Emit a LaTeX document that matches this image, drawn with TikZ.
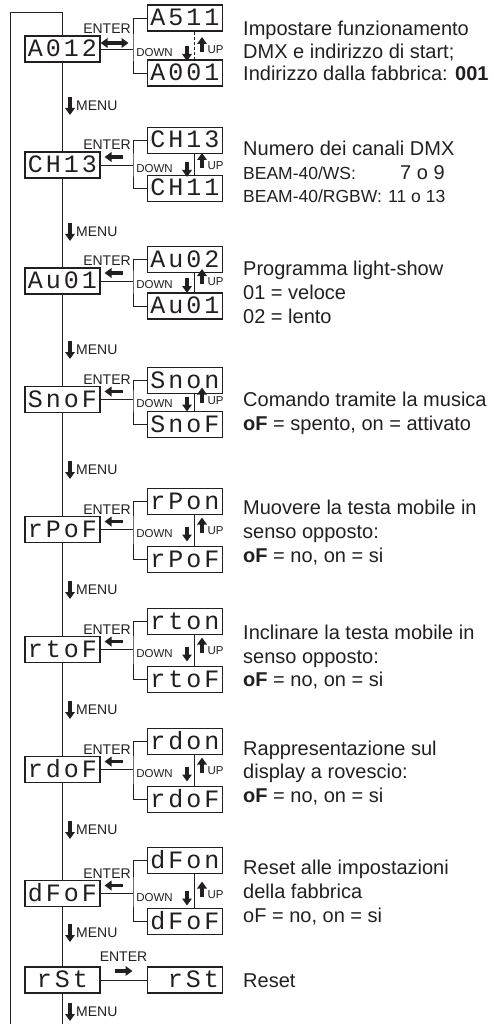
\documentclass[tikz,border=0pt]{standalone}
\usepackage{fontspec}
\setmainfont{Liberation Sans}
\newfontfamily\segfont[LetterSpace=12]{Liberation Mono}
\usetikzlibrary{arrows.meta,calc}
\definecolor{ink}{HTML}{231F20}
\tikzset{
  disp/.style={draw=ink, line width=1.1pt, fill=white, minimum width=75pt, minimum height=26pt,
    inner sep=0pt, text height=15pt, text depth=0pt, text=ink, font=\segfont\fontsize{25}{25}\selectfont},
  conn/.style={draw=ink, line width=0.9pt},
  bigarrow/.style={draw=ink, line width=3.2pt, -{Triangle[length=7pt,width=9.5pt]}},
  dblarrow/.style={draw=ink, line width=3.2pt, {Triangle[length=7pt,width=9.5pt]}-{Triangle[length=7pt,width=9.5pt]}},
  lbl/.style={font=\fontsize{14}{14}\selectfont, text=ink, inner sep=0pt},
  sml/.style={font=\fontsize{11.5}{11.5}\selectfont, text=ink, inner sep=0pt},
  desc/.style={font=\fontsize{20}{23.5}\selectfont, text=ink, anchor=base west, inner sep=0pt},
  cond/.style={font=\fontsize{17.5}{23.5}\selectfont},
  udline/.style={},
  dashedud/.style={dash pattern=on 3pt off 2pt}
}
% id, c, top centre, bottom centre, main text, top text, bottom text, line style
\newcommand{\menusection}[8]{%
  \node[disp] (m#1) at (62.5,#2) {#5};
  \node[disp] (t#1) at (185,#3) {#6};
  \node[disp] (b#1) at (185,#4) {#7};
  \coordinate (j#1) at (133,#2);
  \coordinate (u#1) at (194,#2);
  \draw[conn] (m#1.east) -- (j#1);
  \draw[conn] (t#1.west) -| (j#1) |- (b#1.west);
  \draw[conn,#8] (t#1.south -| u#1) -- (b#1.north -| u#1);
  \node[lbl] (e#1) at (107,#2-20) {ENTER};
  \node[sml] (dn#1) at (154.5,#2+4) {DOWN};
  \node[sml] (up#1) at (215.5,#2+1) {UP};
  \draw[bigarrow] ($(u#1)+(-7,-3)$) -- ($(u#1)+(-7,12)$);
  \draw[bigarrow] ($(u#1)+(8,3)$) -- ($(u#1)+(8,-12)$);
}
\newcommand{\menuarrow}[2]{%
  \coordinate (ma#1) at (70,#2);
  \draw[bigarrow] ($(ma#1)+(0,-9)$) -- ($(ma#1)+(0,9)$);
  \node[lbl, anchor=west] (mt#1) at (76,#2) {MENU};
}
\begin{document}
\begin{tikzpicture}[x=1pt,y=-1pt]
\useasboundingbox (0,0) rectangle (494,1024);
% loop lines
\coordinate (bl) at (10,1024);
\coordinate (tl) at (10,12);
\coordinate (tm) at (62.5,12);
\coordinate (bm) at (62.5,1024);
\draw[conn] (bl) -- (tl) -- (tm) -- (bm);

\menusection{1}{49}{18}{73}{A012}{A511}{A001}{dashedud}
\draw[dblarrow] ($(m1.east)+(0,-6)$) -- ($(m1.east)+(28,-6)$);
\menusection{2}{165}{140.5}{188.5}{CH13}{CH13}{CH11}{udline}
\menusection{3}{281}{259.5}{306}{Au01}{Au02}{Au01}{udline}
\menusection{4}{399.5}{380.5}{424.5}{SnoF}{Snon}{SnoF}{udline}
\menusection{5}{529.5}{501.5}{559.5}{rPoF}{rPon}{rPoF}{udline}
\menusection{6}{649.5}{621.5}{679.5}{rtoF}{rton}{rtoF}{udline}
\menusection{7}{769.5}{741.5}{799.5}{rdoF}{rdon}{rdoF}{udline}
\menusection{8}{893.5}{860.5}{921.5}{dFoF}{dFon}{dFoF}{udline}
\foreach \k in {2,...,8}{
  \draw[bigarrow] ($(e\k)+(15.5,12)$) -- ($(e\k)+(-2.5,12)$);
}
% reset
\node[disp] (m9) at (62.5,980) {rSt};
\node[disp] (r9) at (185,980) {\makebox[68pt][r]{rSt}};
\draw[conn] (m9.east) -- (r9.west);
\node[lbl] (e9) at (123.5,957) {ENTER};
\draw[bigarrow] ($(e9)+(-9,14)$) -- ($(e9)+(9,14)$);

\menuarrow{1}{106}
\menuarrow{2}{232}
\menuarrow{3}{350}
\menuarrow{4}{470}
\menuarrow{5}{590}
\menuarrow{6}{710}
\menuarrow{7}{830}
\menuarrow{8}{933}
\menuarrow{9}{1012}

% descriptions
\node[desc] (d1a) at (243,36) {Impostare funzionamento};
\node[desc] (d1b) at (243,58.5) {DMX e indirizzo di start;};
\node[desc] (d1c) at (243,81) {Indirizzo dalla fabbrica: \textbf{001}};
\node[desc] (d2a) at (243,156) {Numero dei canali DMX};
\node[desc,cond] (d2b) at (243,179.5) {BEAM-40/WS:};
\node[desc] (d2c) at (400,179.5) {7 o 9};
\node[desc,cond] (d2d) at (243,203) {BEAM-40/RGBW:};
\node[desc,cond] (d2e) at (388,203) {11 o 13};
\node[desc] (d3a) at (243,275) {Programma light-show};
\node[desc] (d3b) at (243,299) {01 = veloce};
\node[desc] (d3c) at (243,323) {02 = lento};
\node[desc] (d4a) at (243,406) {Comando tramite la musica};
\node[desc] (d4b) at (243,430) {\textbf{oF} = spento, on = attivato};
\node[desc] (d5a) at (243,514) {Muovere la testa mobile in};
\node[desc] (d5b) at (243,538) {senso opposto:};
\node[desc] (d5c) at (243,562) {\textbf{oF} = no, on = si};
\node[desc] (d6a) at (243,639) {Inclinare la testa mobile in};
\node[desc] (d6b) at (243,663) {senso opposto:};
\node[desc] (d6c) at (243,686) {\textbf{oF} = no, on = si};
\node[desc] (d7a) at (243,755) {Rappresentazione sul};
\node[desc] (d7b) at (243,778) {display a rovescio:};
\node[desc] (d7c) at (243,802) {\textbf{oF} = no, on = si};
\node[desc] (d8a) at (243,874) {Reset alle impostazioni};
\node[desc] (d8b) at (243,898) {della fabbrica};
\node[desc] (d8c) at (243,922) {oF = no, on = si};
\node[desc] (d9a) at (243,987) {Reset};
\end{tikzpicture}
\end{document}
